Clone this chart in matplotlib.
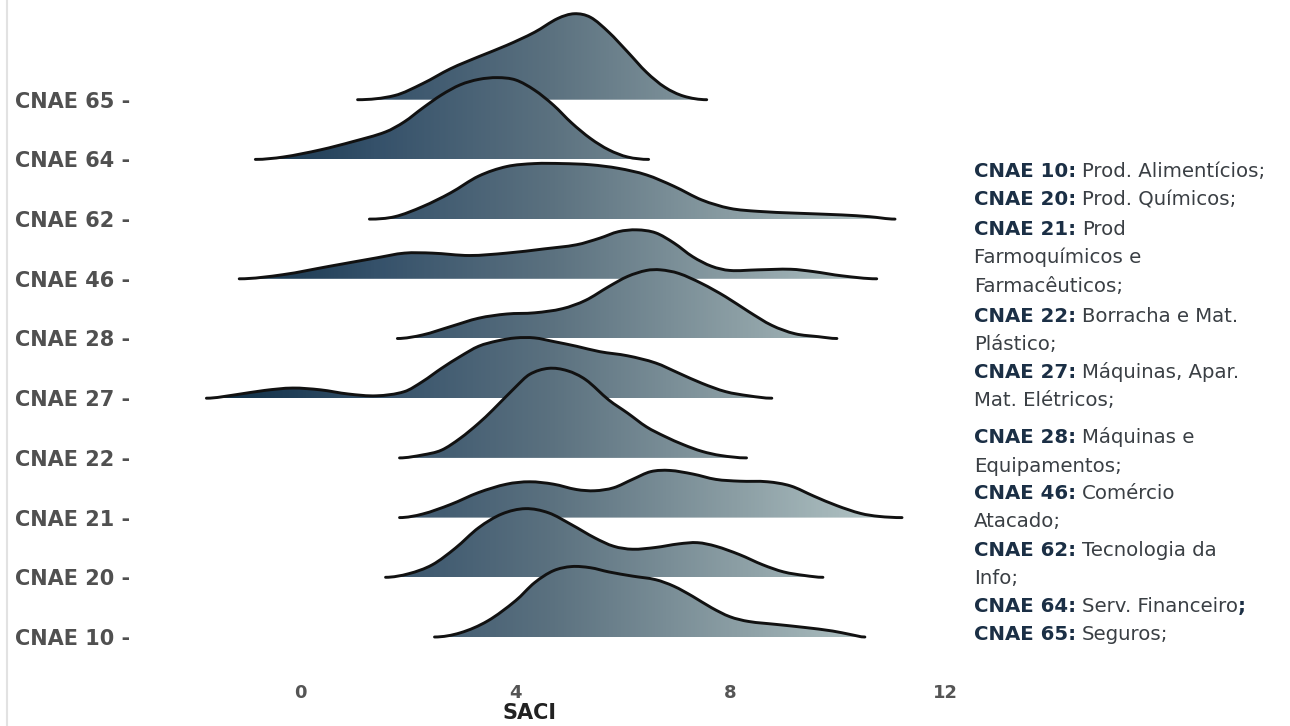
import numpy as np
import matplotlib
matplotlib.use("Agg")
import matplotlib.pyplot as plt
from matplotlib.path import Path
from matplotlib.patches import PathPatch
from matplotlib.colors import LinearSegmentedColormap
from matplotlib.lines import Line2D

# ---------------- data ----------------
categories = ["CNAE 10", "CNAE 20", "CNAE 21", "CNAE 22", "CNAE 27",
              "CNAE 28", "CNAE 46", "CNAE 62", "CNAE 64", "CNAE 65"]

x_10 = [2.50, 2.98, 3.49, 4.01, 4.36, 4.71, 5.05, 5.40, 5.74, 6.18, 6.61, 6.95, 7.30, 7.65, 7.99, 8.34, 8.86, 9.38, 9.90, 10.24, 10.50]
d_10 = [0.00, 0.07, 0.27, 0.61, 0.91, 1.11, 1.18, 1.16, 1.09, 1.02, 0.96, 0.85, 0.68, 0.49, 0.34, 0.26, 0.21, 0.16, 0.10, 0.04, 0.00]

x_20 = [1.59, 2.02, 2.46, 2.89, 3.32, 3.75, 4.19, 4.62, 5.05, 5.48, 5.83, 6.18, 6.61, 7.04, 7.39, 7.73, 8.17, 8.60, 8.99, 9.38, 9.72]
d_20 = [0.00, 0.06, 0.21, 0.49, 0.83, 1.06, 1.15, 1.08, 0.88, 0.66, 0.52, 0.47, 0.50, 0.56, 0.58, 0.52, 0.38, 0.21, 0.09, 0.03, 0.00]

x_21 = [1.85, 2.28, 2.80, 3.32, 3.84, 4.27, 4.71, 5.14, 5.48, 5.83, 6.18, 6.52, 6.87, 7.30, 7.73, 8.17, 8.69, 9.12, 9.55, 9.98, 10.42, 10.76, 11.19]
d_21 = [0.00, 0.06, 0.22, 0.42, 0.56, 0.60, 0.56, 0.47, 0.45, 0.50, 0.64, 0.77, 0.79, 0.73, 0.64, 0.61, 0.60, 0.53, 0.36, 0.20, 0.07, 0.02, 0.00]

x_22 = [1.85, 2.28, 2.63, 2.98, 3.32, 3.58, 4.01, 4.27, 4.62, 4.97, 5.31, 5.74, 6.09, 6.44, 6.78, 7.13, 7.47, 7.82, 8.30]
d_22 = [0.00, 0.05, 0.13, 0.33, 0.58, 0.80, 1.19, 1.40, 1.50, 1.46, 1.31, 0.97, 0.75, 0.52, 0.36, 0.22, 0.11, 0.04, 0.00]

x_27 = [-1.74, -1.18, -0.66, -0.14, 0.38, 0.90, 1.42, 1.94, 2.28, 2.63, 2.98, 3.32, 3.67, 4.01, 4.36, 4.71, 5.14, 5.57, 6.09, 6.61, 7.04, 7.47, 7.91, 8.34, 8.77]
d_27 = [0.00, 0.06, 0.13, 0.17, 0.14, 0.07, 0.04, 0.11, 0.28, 0.50, 0.70, 0.87, 0.96, 1.01, 1.01, 0.95, 0.87, 0.78, 0.71, 0.59, 0.42, 0.25, 0.11, 0.04, 0.00]

x_28 = [1.81, 2.28, 2.80, 3.32, 3.84, 4.36, 4.88, 5.31, 5.74, 6.09, 6.44, 6.70, 7.04, 7.47, 7.91, 8.34, 8.77, 9.20, 9.64, 9.98]
d_28 = [0.00, 0.06, 0.20, 0.34, 0.41, 0.43, 0.50, 0.64, 0.87, 1.04, 1.14, 1.15, 1.09, 0.92, 0.70, 0.45, 0.22, 0.08, 0.03, 0.00]

x_46 = [-1.13, -0.31, 0.55, 1.42, 1.94, 2.46, 3.15, 3.84, 4.53, 5.14, 5.57, 5.92, 6.26, 6.61, 6.95, 7.30, 7.65, 7.99, 8.51, 9.12, 9.55, 10.07, 10.72]
d_46 = [0.00, 0.07, 0.21, 0.35, 0.43, 0.43, 0.39, 0.43, 0.50, 0.57, 0.68, 0.79, 0.82, 0.77, 0.60, 0.37, 0.21, 0.14, 0.15, 0.16, 0.12, 0.05, 0.00]

x_62 = [1.29, 1.76, 2.28, 2.80, 3.32, 3.84, 4.36, 4.88, 5.40, 5.92, 6.44, 6.95, 7.47, 7.99, 8.51, 9.20, 10.07, 10.59, 11.06]
d_62 = [0.00, 0.04, 0.21, 0.44, 0.72, 0.88, 0.93, 0.93, 0.91, 0.85, 0.74, 0.55, 0.32, 0.18, 0.13, 0.10, 0.07, 0.04, 0.00]

x_64 = [-0.83, -0.31, 0.38, 0.99, 1.59, 1.94, 2.28, 2.63, 2.98, 3.32, 3.67, 4.01, 4.36, 4.71, 5.05, 5.40, 5.74, 6.09, 6.48]
d_64 = [0.00, 0.04, 0.16, 0.30, 0.46, 0.63, 0.86, 1.08, 1.25, 1.34, 1.37, 1.33, 1.16, 0.91, 0.61, 0.35, 0.16, 0.04, 0.00]

x_65 = [1.07, 1.76, 2.28, 2.80, 3.32, 3.84, 4.36, 4.79, 5.10, 5.40, 5.74, 6.09, 6.44, 6.78, 7.13, 7.56]
d_65 = [0.00, 0.07, 0.27, 0.52, 0.72, 0.91, 1.13, 1.36, 1.44, 1.38, 1.13, 0.80, 0.46, 0.21, 0.06, 0.00]

x_ticks = [0, 4, 8, 12]
x_label = "SACI"

legend_codes = ["CNAE 10:", "CNAE 20:", "CNAE 21:", "", "", "CNAE 22:", "", "CNAE 27:", "",
                "CNAE 28:", "", "CNAE 46:", "", "CNAE 62:", "", "CNAE 64:", "CNAE 65:"]
legend_texts = ["Prod. Alimentícios;", "Prod. Químicos;", "Prod", "Farmoquímicos e",
                "Farmacêuticos;", "Borracha e Mat.", "Plástico;", "Máquinas, Apar.",
                "Mat. Elétricos;", "Máquinas e", "Equipamentos;", "Comércio", "Atacado;",
                "Tecnologia da", "Info;", "Serv. Financeiro", "Seguros;"]
legend_tails = ["", "", "", "", "", "", "", "", "", "", "", "", "", "", "", ";", ""]

# ---------------- figure ----------------
W, H = 1290, 726
fig = plt.figure(figsize=(W / 100, H / 100), dpi=100)
fig.patch.set_facecolor("white")

ax_l, ax_r, ax_t, ax_b = 150, 960, 5, 665
ax = fig.add_axes([ax_l / W, 1 - ax_b / H, (ax_r - ax_l) / W, (ax_b - ax_t) / H])
ax.set_facecolor("none")

px_per_unit = 53.8
x0_px = 300
row_px = 59.7
base_px0 = 637
xmin = (ax_l - x0_px) / px_per_unit
xmax = (ax_r - x0_px) / px_per_unit
ymin = -(ax_b - base_px0) / row_px
ymax = 9 + (base_px0 - 9 * row_px - ax_t) / row_px

cmap = LinearSegmentedColormap.from_list(
    "ridge", [(0.0, "#082940"), (0.25, "#35516a"), (0.5, "#5c7280"),
              (0.75, "#8b9ea4"), (1.0, "#bccece")])
gx0, gx1 = -2.0, 11.5
grad = np.linspace(0, 1, 600).reshape(1, -1)

series = {
    "CNAE 10": (x_10, d_10), "CNAE 20": (x_20, d_20), "CNAE 21": (x_21, d_21),
    "CNAE 22": (x_22, d_22), "CNAE 27": (x_27, d_27), "CNAE 28": (x_28, d_28),
    "CNAE 46": (x_46, d_46), "CNAE 62": (x_62, d_62), "CNAE 64": (x_64, d_64),
    "CNAE 65": (x_65, d_65),
}


def smooth_curve(xs, ys):
    # Bezier path through the read points (tangents from neighbouring points)
    pts = np.column_stack([xs, ys]).astype(float)
    n = len(pts)
    tang = np.zeros_like(pts)
    for k in range(n):
        a = pts[max(k - 1, 0)]
        b = pts[min(k + 1, n - 1)]
        dx = b[0] - a[0]
        slope = (b[1] - a[1]) / dx if dx else 0.0
        if k == 0 or k == n - 1:
            slope = 0.0
        tang[k] = (1.0, slope)
    verts = [pts[0]]
    codes = [Path.MOVETO]
    for k in range(n - 1):
        p1, p2 = pts[k], pts[k + 1]
        h = (p2[0] - p1[0]) / 3.0
        c1 = p1 + tang[k] * h
        c2 = p2 - tang[k + 1] * h
        verts += [c1, c2, p2]
        codes += [Path.CURVE4] * 3
    return verts, codes


for i, cat in enumerate(categories):
    xs, ds = series[cat]
    ys = [i + d for d in ds]
    verts, codes = smooth_curve(xs, ys)
    z = 100 - 3 * i
    fill_path = Path(verts + [(xs[-1], i), (xs[0], i), (xs[0], i)],
                     codes + [Path.LINETO, Path.LINETO, Path.CLOSEPOLY])
    clip = PathPatch(fill_path, facecolor="none", edgecolor="none",
                     transform=ax.transData)
    ax.add_patch(clip)
    im = ax.imshow(grad, cmap=cmap, extent=[gx0, gx1, i, i + 1.8],
                   aspect="auto", origin="lower", interpolation="bilinear",
                   zorder=z)
    im.set_clip_path(clip)
    line = PathPatch(Path(verts, codes), facecolor="none", edgecolor="#111111",
                     lw=2.1, zorder=z + 1, capstyle="round", joinstyle="round")
    ax.add_patch(line)

ax.set_xlim(xmin, xmax)
ax.set_ylim(ymin, ymax)
for s in ax.spines.values():
    s.set_visible(False)

ax.set_xticks(x_ticks)
ax.set_xticklabels([str(t) for t in x_ticks])
ax.set_yticks(range(len(categories)))
ax.set_yticklabels([c + " -" for c in categories])
ax.tick_params(axis="x", length=0, pad=14, labelsize=13, labelcolor="#555555")
ax.tick_params(axis="y", length=0, pad=14, labelsize=15, labelcolor="#505050")
for lab in ax.get_yticklabels():
    lab.set_fontweight("bold")
for lab in ax.get_xticklabels():
    lab.set_fontweight("bold")

fig.text(530 / W, 1 - 713 / H, x_label, ha="center", va="center",
         fontsize=15, fontweight="bold", color="#222222")

# left thin border line
fig.add_artist(Line2D([7 / W, 7 / W], [0, 1], color="#e2e2e2", lw=1.5))

# ---------------- legend text on the right ----------------
leg_x = 974
baselines = [177, 205, 235, 263, 292, 322, 350, 378, 406, 443, 472, 499, 527, 556, 584, 612, 640]
fs = 14.2
fam = ["DejaVu Sans"]
fig.canvas.draw()
for code, txt, tail, yb in zip(legend_codes, legend_texts, legend_tails, baselines):
    yf = 1 - yb / H
    if code:
        b = fig.text(leg_x / W, yf, code, fontsize=fs, fontweight="bold",
                     color="#1b2f45", family=fam, va="baseline", ha="left")
        bb = b.get_window_extent(renderer=fig.canvas.get_renderer())
        r = fig.text((bb.x1 + 6) / W, yf, txt, fontsize=fs, color="#3a3f44",
                     family=fam, va="baseline", ha="left")
    else:
        r = fig.text(leg_x / W, yf, txt, fontsize=fs, color="#3a3f44",
                     family=fam, va="baseline", ha="left")
    if tail:
        rb = r.get_window_extent(renderer=fig.canvas.get_renderer())
        fig.text(rb.x1 / W, yf, tail, fontsize=fs, fontweight="bold",
                 color="#1b2f45", family=fam, va="baseline", ha="left")

fig.savefig("out.png", dpi=100, facecolor="white")
